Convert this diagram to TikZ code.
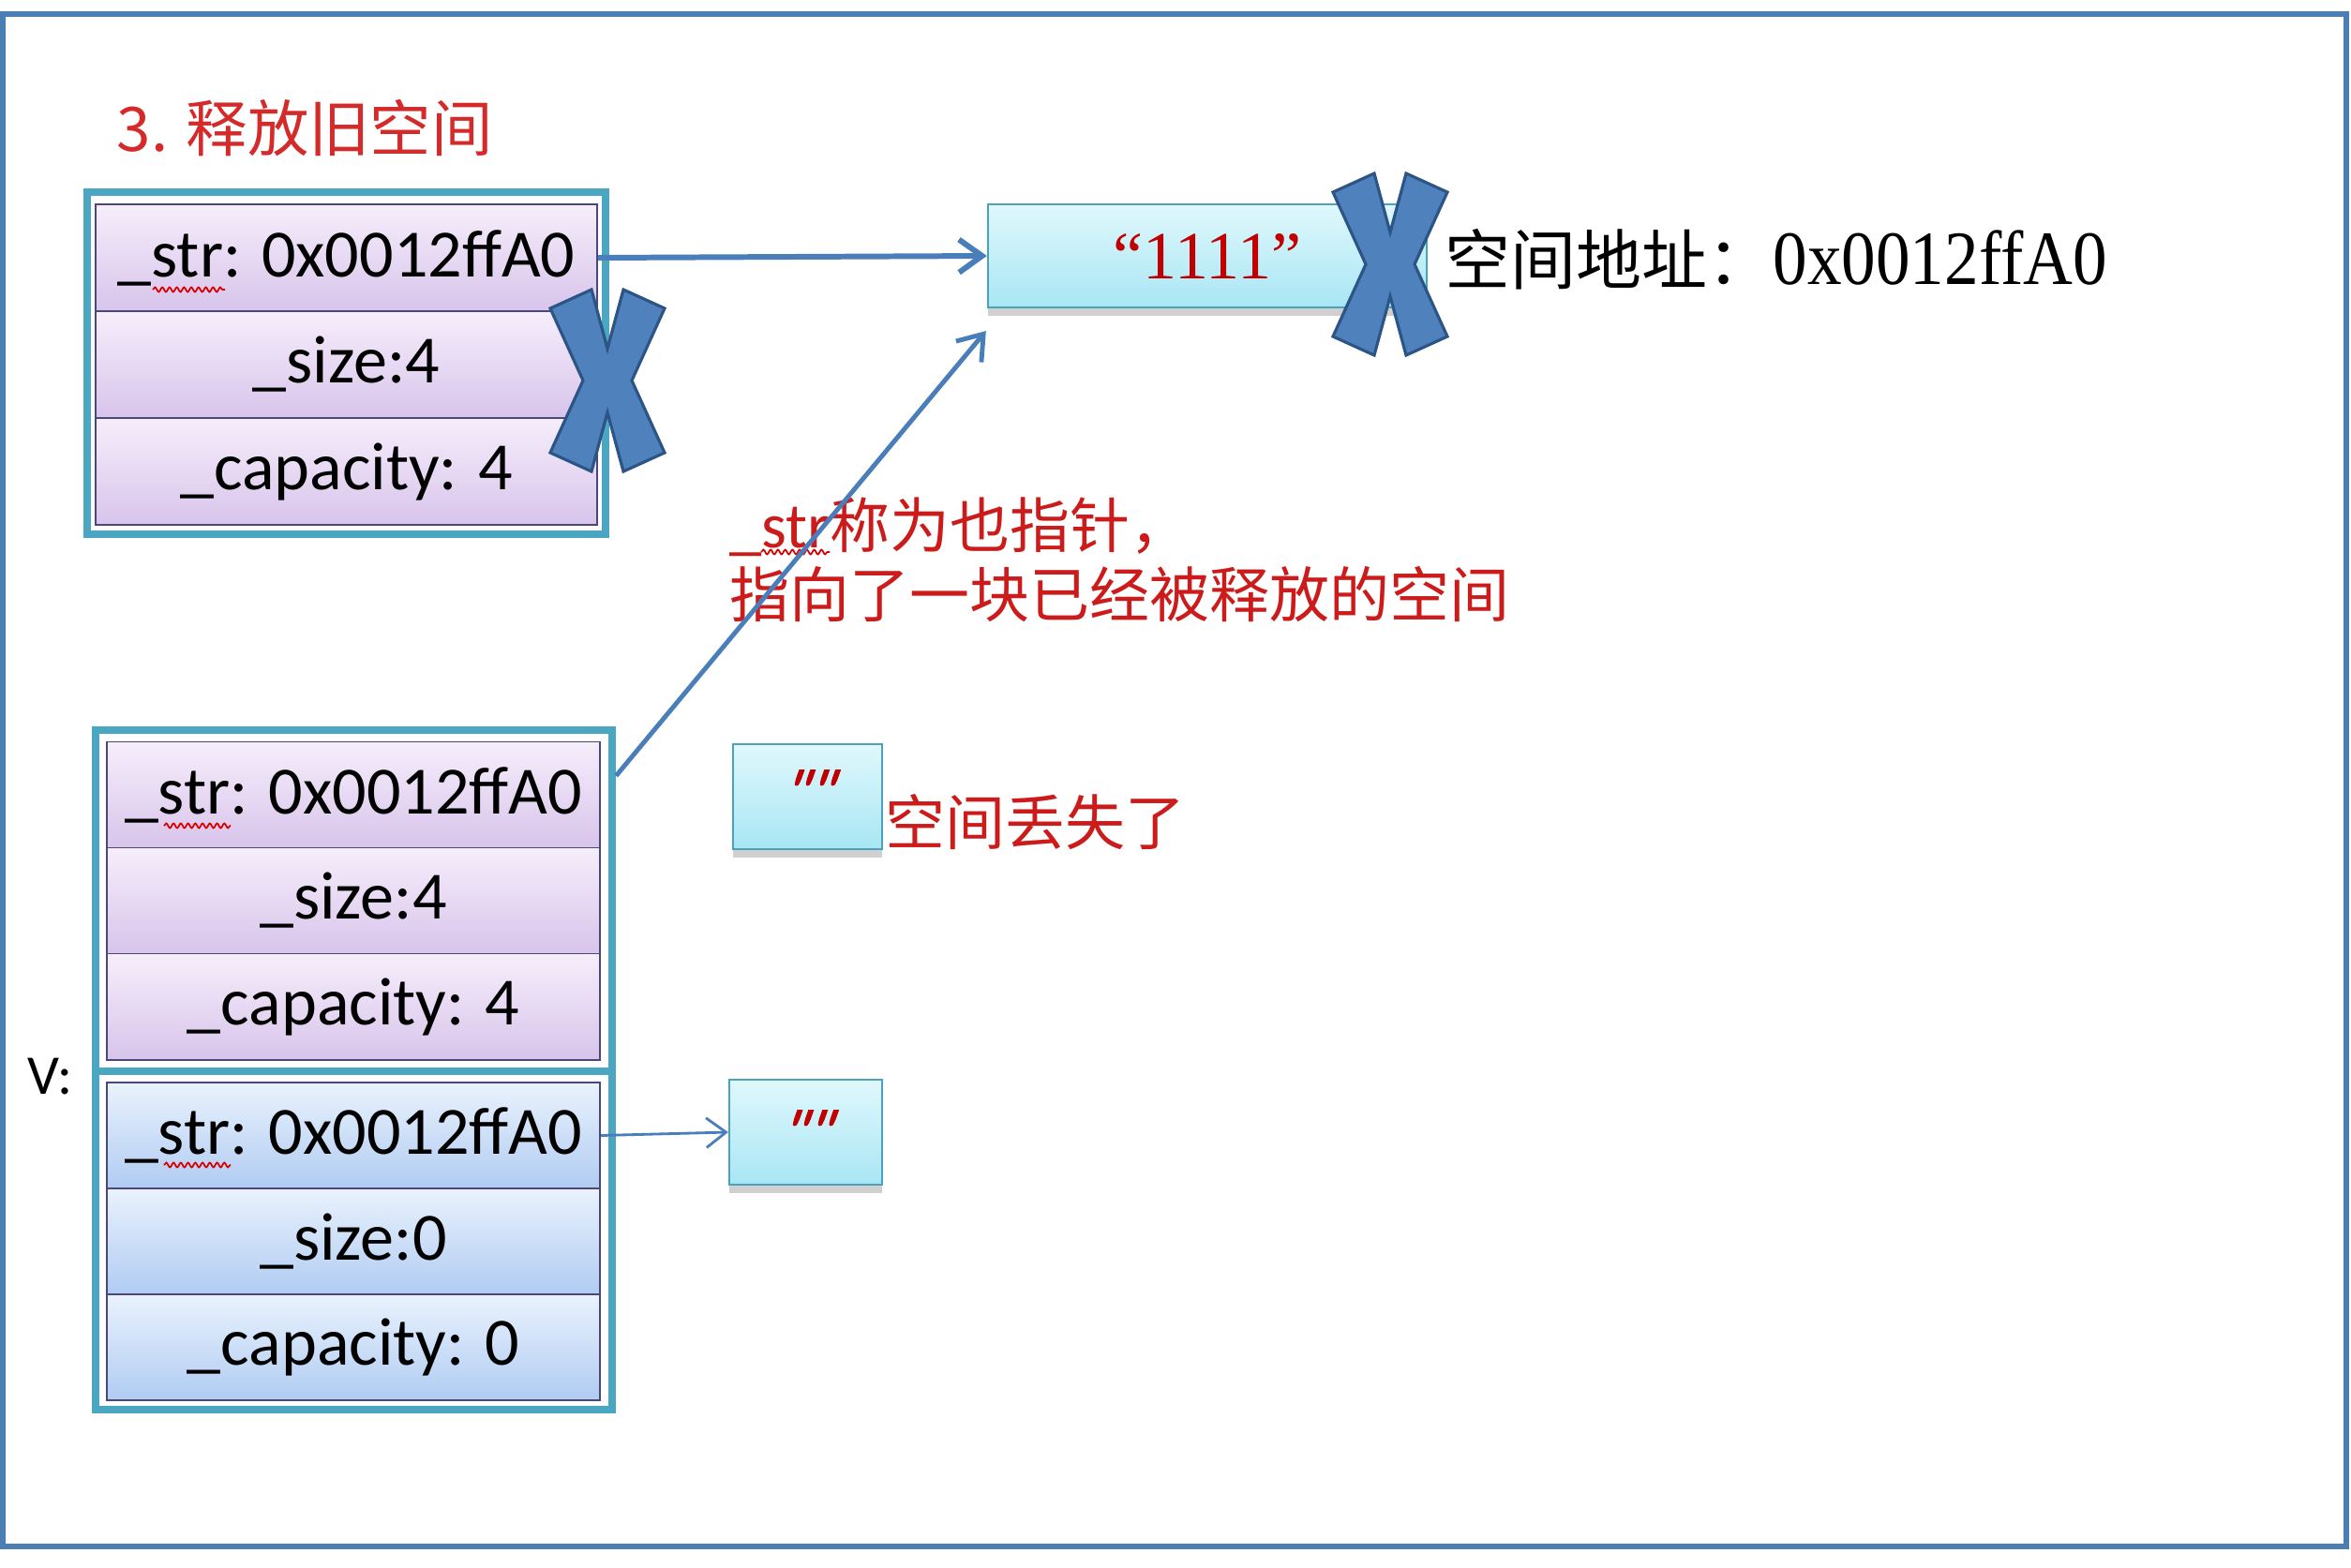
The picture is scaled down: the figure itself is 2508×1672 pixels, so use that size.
\documentclass[tikz,border=0pt]{standalone}
\usepackage{fontspec}
\setmainfont{Carlito}
\newfontfamily\cjk{Noto Sans CJK SC}
\newfontfamily\numserif{Liberation Serif}
\newfontfamily\qfont[Ligatures=TeXOff,FakeSlant=0.35,FakeBold=1.5]{Carlito}
\usetikzlibrary{arrows.meta,shadows,decorations.pathmorphing,calc}
\definecolor{framebl}{HTML}{4A7EB4}
\definecolor{tealfr}{HTML}{4BA6C1}
\definecolor{rowline}{HTML}{4A4878}
\definecolor{pTop}{HTML}{F6EEFB}
\definecolor{pBot}{HTML}{D8C4EB}
\definecolor{bTop}{HTML}{EAF2FD}
\definecolor{bBot}{HTML}{B0CCF2}
\definecolor{cTop}{HTML}{E0F8FC}
\definecolor{cBot}{HTML}{A8E6F4}
\definecolor{cboxline}{HTML}{4AA3BA}
\definecolor{arrowbl}{HTML}{4A7EBB}
\definecolor{xfill}{HTML}{4F81BD}
\definecolor{xline}{HTML}{2C5585}
\definecolor{txtred}{HTML}{CC1B1B}
\definecolor{titlered}{HTML}{D42A2A}
\definecolor{quotered}{HTML}{C00000}
\newcommand\mycellfont{\fontsize{20.5pt}{24pt}\selectfont}
\newcommand\bigcross[1]{%
  \filldraw[xcross,shift={#1}] (-61,-77) -- (-17,-97) -- (0,-34) -- (17,-97) -- (61,-77) -- (26,0) -- (61,77) -- (17,97) -- (0,34) -- (-17,97) -- (-61,77) -- (-26,0) -- cycle;}
\begin{document}
\begin{tikzpicture}[x=0.01cm,y=-0.01cm,
  cellP/.style={draw=rowline,line width=0.55pt,top color=pTop,bottom color=pBot,minimum height=1.13cm,inner sep=0pt,font=\mycellfont},
  cellB/.style={cellP,top color=bTop,bottom color=bBot},
  sframe/.style={draw=tealfr,line width=2.3pt,inner sep=0pt},
  cbox/.style={draw=cboxline,line width=0.6pt,top color=cTop,bottom color=cBot,inner sep=0pt,
     drop shadow={shadow xshift=0pt,shadow yshift=-2.5pt,opacity=0.3,fill=black!60}},
  ptr/.style={draw=arrowbl,line width=1.7pt,-{Straight Barb[length=7pt,width=10pt]}},
  ptrthin/.style={draw=arrowbl,line width=0.8pt,-{Straight Barb[length=6pt,width=9pt]}},
  xcross/.style={fill=xfill,draw=xline,line width=0.9pt,line join=miter},
  squig/.style={draw=red!85!black,line width=0.5pt,decorate,decoration={snake,amplitude=0.7pt,segment length=2.2pt}},
  qmark/.style={inner sep=0pt,text=quotered,font=\qfont\fontsize{19pt}{22pt}\selectfont},
  redtxt/.style={inner sep=0pt,text=txtred,font=\cjk\fontsize{18.2pt}{21pt}\selectfont}
]
\fill[white] (0,0) rectangle (2508,1672);
\useasboundingbox (0,0) rectangle (2508,1672);
\draw[framebl,line width=1.7pt] (3,15) rectangle (2503,1650);

% title
\node[anchor=west,inner sep=0pt,text=titlered,font=\cjk\fontsize{18.6pt}{21pt}\selectfont] (title) at (124,137) {3. 释放旧空间};

% top struct
\node[sframe,minimum width=5.53cm,minimum height=3.65cm] (ts) at (369.5,387.5) {};
\node[cellP,minimum width=5.35cm,minimum height=1.14cm] (t1) at (369.5,275) {\_str: 0x0012ffA0};
\node[cellP,minimum width=5.35cm,minimum height=1.14cm] (t2) at (369.5,389) {\_size:4};
\node[cellP,minimum width=5.35cm,minimum height=1.14cm] (t3) at (369.5,503) {\_capacity: 4};

% bottom struct (v)
\node[sframe,minimum width=5.51cm,minimum height=7.25cm] (bs) at (377.5,1141.5) {};
\draw[tealfr,line width=2.3pt] (bs.west |- 0,1143) -- (bs.east |- 0,1143);
\node[cellP,minimum width=5.26cm] (b1) at (377,848) {\_str: 0x0012ffA0};
\node[cellP,minimum width=5.26cm] (b2) at (377,961) {\_size:4};
\node[cellP,minimum width=5.26cm] (b3) at (377,1074) {\_capacity: 4};
\node[cellB,minimum width=5.26cm] (b4) at (377,1211.5) {\_str: 0x0012ffA0};
\node[cellB,minimum width=5.26cm] (b5) at (377,1324.5) {\_size:0};
\node[cellB,minimum width=5.26cm] (b6) at (377,1437.5) {\_capacity: 0};
\node[anchor=west,inner sep=0pt,font=\fontsize{17pt}{20pt}\selectfont] (vlab) at (29,1149) {V:};

% spell-check squiggles
\draw[squig] (163,309) -- (240,309);
\draw[squig] (175,881) -- (246,881);
\draw[squig] (175,1243) -- (246,1243);
\draw[squig] (812,589) -- (885,589);

% string boxes
\node[cbox,minimum width=4.68cm,minimum height=1.10cm,font=\numserif\fontsize{20.5pt}{24pt}\selectfont,text=quotered] (s1111) at (1288,273) {“1111”};
\node[cbox,minimum width=1.59cm,minimum height=1.12cm] (e1) at (861.5,850) {};
\node[qmark,anchor=north] (q1) at (858,821) {""};
\node[cbox,minimum width=1.63cm,minimum height=1.12cm] (e2) at (859.5,1208) {};
\node[qmark,anchor=north] (q2) at (856,1184) {""};

% texts
\node[redtxt,anchor=west,align=left] (note) at (778,597) {{\rmfamily\fontsize{19.5pt}{21pt}\selectfont\_str}称为也指针，\\指向了一块已经被释放的空间};
\node[redtxt,anchor=west] (lost) at (944,877) {空间丢失了};
\node[anchor=west,inner sep=0pt] (addr) at (1541,277) {{\cjk\fontsize{19.9pt}{22pt}\selectfont 空间地址：}{\numserif\fontsize{20.8pt}{24pt}\selectfont\scalebox{1}[1.12]{0x0012ffA0}}};

% arrows
\draw[ptr] (t1.east) -- (s1111.west);
\coordinate (a2s) at ([yshift=-0.53cm]bs.north east);
\coordinate (a2e) at ([xshift=-0.01cm,yshift=-0.24cm]s1111.south west);
\draw[ptr,line width=1.4pt] (a2s) -- (a2e);
\draw[ptrthin] (b4.east) -- (e2.west);

% crosses
\bigcross{(648,406)}
\bigcross{(1483,282)}
\end{tikzpicture}
\end{document}
